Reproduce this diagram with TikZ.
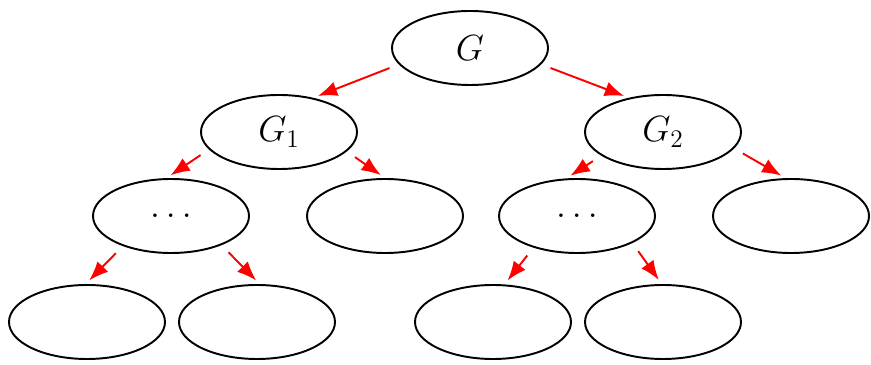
\documentclass[tikz,border=0pt]{standalone}
\usepackage{amsmath}
\usetikzlibrary{shapes.geometric,arrows.meta,positioning}
\definecolor{ArrowRed}{HTML}{FF0000}
\tikzset{
    % Tree node style
    treenode/.style={
        draw=black,
        ellipse,
        line width=1.1pt,
        minimum width=3.12cm,
        minimum height=1.48cm,
        font=\fontsize{22}{26}\selectfont
    },
    % Arrow style
    myarrow/.style={
        -{Latex[length=11pt,width=8.5pt]},
        line width=1.1pt,
        draw=ArrowRed,
        shorten <=0.2cm,
        shorten >=0.1cm
    }
}
\begin{document}
\begin{tikzpicture}
    \useasboundingbox (0,0) rectangle (17.42,7.28);

    % Root
    \node[treenode] (g) at (9.4,6.32) {$G$};

    % Level 2
    \node[treenode] (g1) at (5.58,4.64) {$G_1$};
    \node[treenode] (g2) at (13.26,4.64) {$G_2$};

    % Level 3
    \node[treenode] (a) at (3.42,2.96) {$\ldots$};
    \node[treenode] (b) at (7.7,2.96) {};
    \node[treenode] (c) at (11.54,2.96) {$\ldots$};
    \node[treenode] (d) at (15.82,2.96) {};

    % Level 4
    \node[treenode] (a1) at (1.74,0.84) {};
    \node[treenode] (a2) at (5.14,0.84) {};
    \node[treenode] (c1) at (9.86,0.84) {};
    \node[treenode] (c2) at (13.26,0.84) {};

    % Arrows
    \draw[myarrow] (g.193) -- (g1.45);
    \draw[myarrow] (g.347) -- (g2.135);
    \draw[myarrow] (g1.194) -- (a.97);
    \draw[myarrow] (g1.344) -- (b.90);
    \draw[myarrow] (g2.201) -- (c.106);
    \draw[myarrow] (g2.347) -- (d.98);
    \draw[myarrow] (a.212) -- (a1.92);
    \draw[myarrow] (a.330) -- (a2.86);
    \draw[myarrow] (c.216) -- (c1.73);
    \draw[myarrow] (c.334) -- (c2.92);
\end{tikzpicture}
\end{document}
